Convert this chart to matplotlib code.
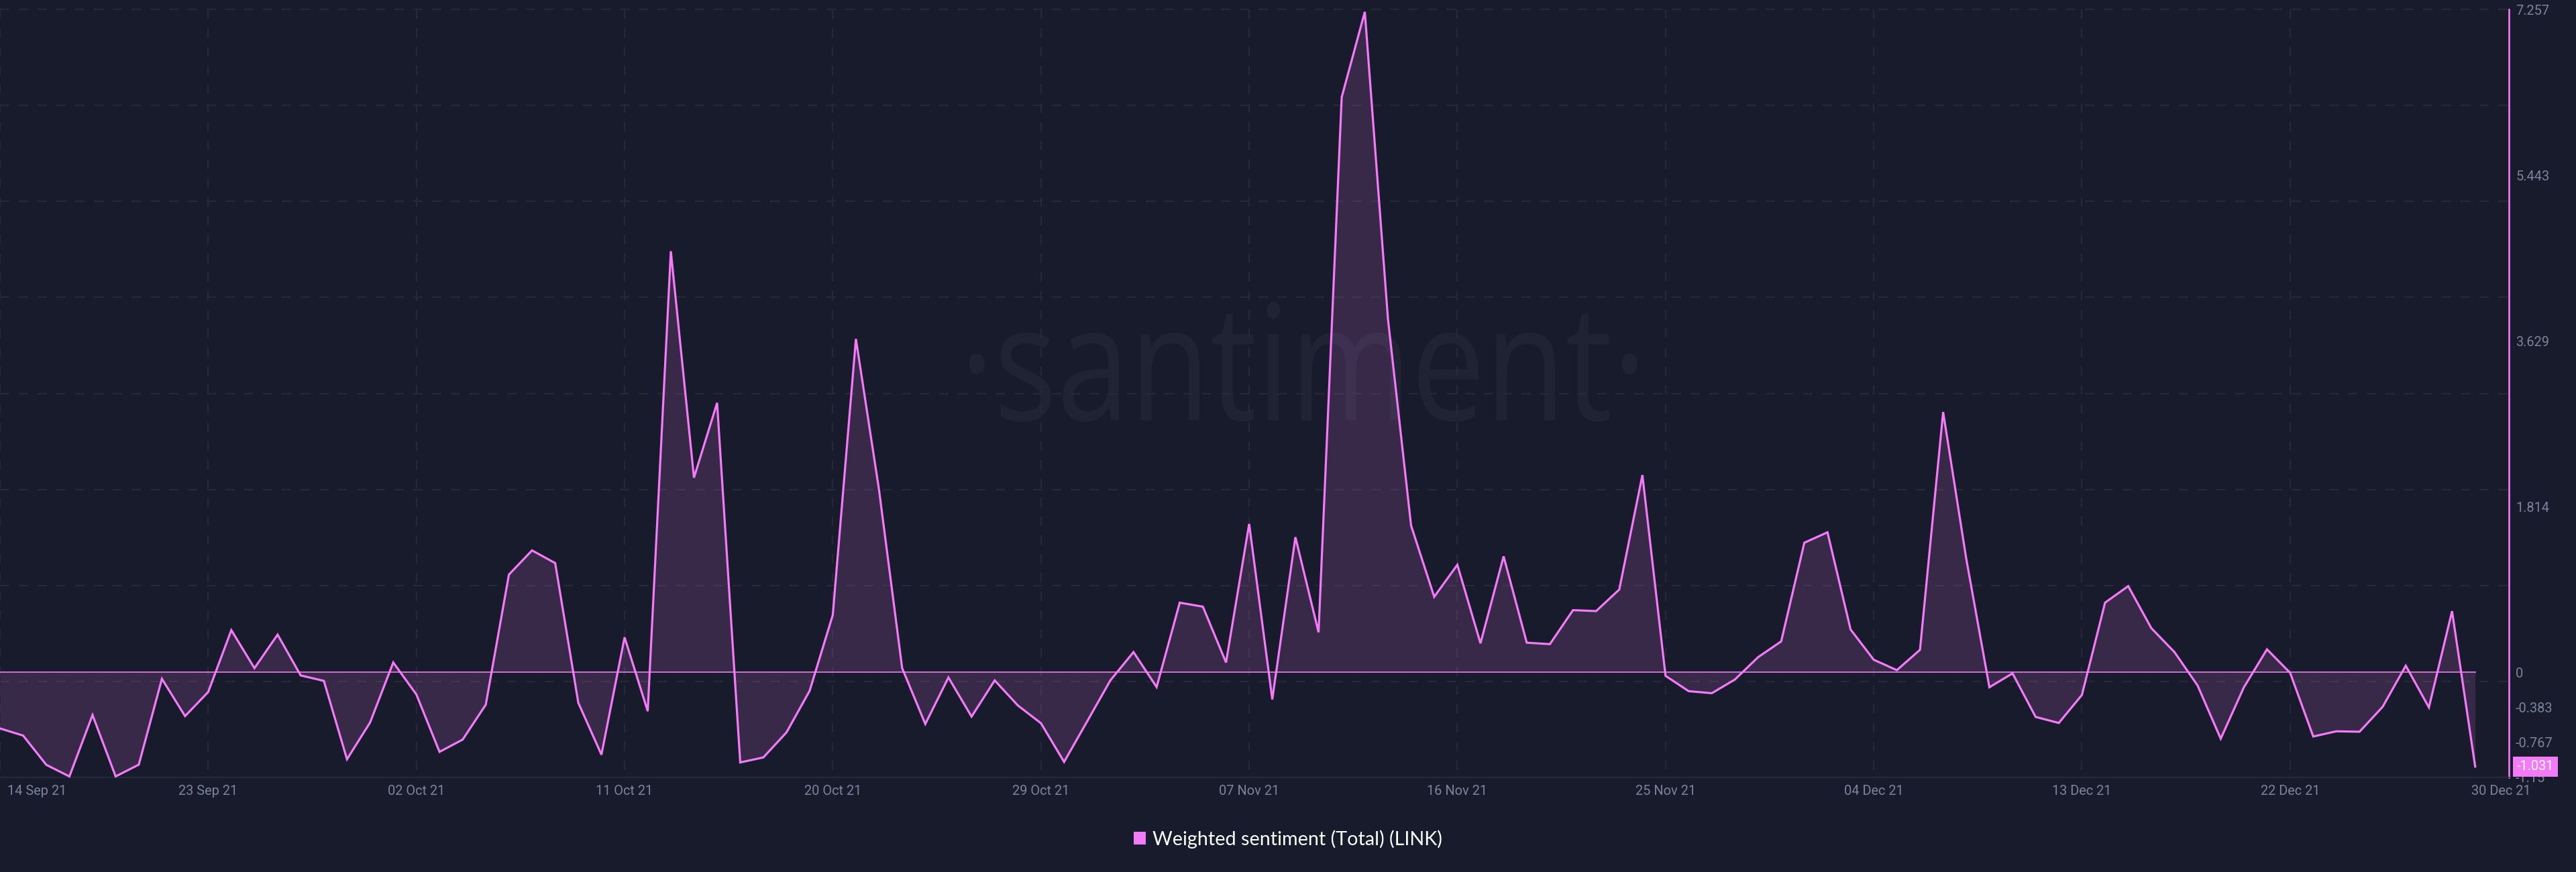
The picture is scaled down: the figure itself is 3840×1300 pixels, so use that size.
"""
Weighted sentiment (Total) for LINK, Santiment style dark chart.
"""

import numpy as np
import pandas as pd
import matplotlib
matplotlib.use("Agg")
import matplotlib.pyplot as plt
import matplotlib.patheffects as pe
from matplotlib.patches import Patch
from matplotlib.transforms import Affine2D

# ---------------------------------------------------------------------------
# Data (one value per day, 14 Sep 21 - 30 Dec 21)
# ---------------------------------------------------------------------------
SENTIMENT = [
    -0.614, -0.692, -1.012, -1.139, -0.467, -1.139, -1.010, -0.071, -0.479, -0.215,
    0.462, 0.046, 0.413, -0.034, -0.093, -0.951, -0.548, 0.108, -0.242, -0.870,
    -0.736, -0.354, 1.070, 1.335, 1.196, -0.333, -0.901, 0.383, -0.425, 4.610,
    2.131, 2.950, -0.986, -0.931, -0.657, -0.202, 0.628, 3.650, 1.997, 0.046,
    -0.565, -0.056, -0.484, -0.088, -0.362, -0.557, -0.980, -0.535, -0.088, 0.222,
    -0.161, 0.763, 0.719, 0.108, 1.625, -0.296, 1.480, 0.438, 6.295, 7.230,
    3.870, 1.607, 0.827, 1.177, 0.318, 1.270, 0.325, 0.309, 0.681, 0.671,
    0.907, 2.160, -0.038, -0.206, -0.228, -0.078, 0.166, 0.339, 1.419, 1.533,
    0.469, 0.138, 0.024, 0.247, 2.850, 1.243, -0.163, -0.011, -0.488, -0.554,
    -0.247, 0.763, 0.944, 0.484, 0.222, -0.144, -0.726, -0.164, 0.252, -0.005,
    -0.702, -0.645, -0.650, -0.377, 0.073, -0.384, 0.670, -1.031,
]
START_DATE = "2021-09-14"
X_TICK_DATES = ["2021-09-14", "2021-09-23", "2021-10-02", "2021-10-11", "2021-10-20",
                "2021-10-29", "2021-11-07", "2021-11-16", "2021-11-25", "2021-12-04",
                "2021-12-13", "2021-12-22", "2021-12-30"]
Y_TICKS = [7.257, 5.443, 3.629, 1.814, 0, -0.383, -0.767, -1.15]
Y_LABELS = ["7.257", "5.443", "3.629", "1.814", "0", "-0.383", "-0.767", "-1.15"]
LEGEND_LABEL = "Weighted sentiment (Total) (LINK)"

# ---------------------------------------------------------------------------
# Style
# ---------------------------------------------------------------------------
BG = "#181b2b"
PINK = "#f47bf7"
GRID = "#262939"
TICK_TEXT = "#7a849b"
WATERMARK = "#1f2334"
DPI = 100
PX = 72 / DPI  # one pixel in points


class SqueezeX(pe.AbstractPathEffect):
    """Squeeze text horizontally around its own centre."""

    def __init__(self, factor):
        super().__init__()
        self.factor = factor

    def draw_path(self, renderer, gc, tpath, affine, rgbFace=None):
        bbox = tpath.get_extents(affine)
        cx = 0.5 * (bbox.x0 + bbox.x1)
        squeeze = Affine2D().translate(-cx, 0).scale(self.factor, 1).translate(cx, 0)
        renderer.draw_path(gc, tpath, affine + squeeze, rgbFace)


plt.rcParams["font.family"] = ["Roboto", "DejaVu Sans"]
plt.rcParams["lines.scale_dashes"] = False

dates = pd.date_range(START_DATE, periods=len(SENTIMENT), freq="D")
values = np.array(SENTIMENT)
tick_dates = pd.to_datetime(X_TICK_DATES)

W, H = 3840, 1300
fig = plt.figure(figsize=(W / DPI, H / DPI), dpi=DPI, facecolor=BG)
ax = fig.add_axes([0, (H - 1159) / H, 3740 / W, (1159 - 14) / H], facecolor=BG)

# ---------------------------------------------------------------------------
# Grid and watermark, under the series
# ---------------------------------------------------------------------------
dash = (0, (14 * PX, 14 * PX))
ax.set_ylim(Y_TICKS[-1], Y_TICKS[0])
ax.set_xlim(dates[0], dates[-1] + pd.Timedelta(hours=35))
for level in np.linspace(Y_TICKS[-1], Y_TICKS[0], 9)[1:]:
    ax.axhline(level, color=GRID, lw=2 * PX, ls=dash, zorder=1, clip_on=False)
for day in tick_dates[:-1]:
    ax.plot([day, day], [Y_TICKS[0], Y_TICKS[-1]], color=GRID,
            lw=2 * PX, ls=dash, zorder=1)

ax.text(0.5195, 0.465, "·santiment·", transform=ax.transAxes, ha="center",
        va="baseline", fontsize=240 * PX, family="Open Sans", color=WATERMARK,
        zorder=0.5, path_effects=[SqueezeX(0.815)])

# ---------------------------------------------------------------------------
# Series: filled area down to zero, zero baseline, then the line
# ---------------------------------------------------------------------------
ax.fill_between(dates, values, 0, color=PINK, alpha=0.15, linewidth=0, zorder=2)
ax.plot(dates, np.zeros(len(dates)), color="#c86fd0", lw=2 * PX, zorder=3)
ax.plot(dates, values, color=PINK, lw=3.2 * PX, solid_joinstyle="miter", zorder=4,
        clip_on=False)

# ---------------------------------------------------------------------------
# Axes
# ---------------------------------------------------------------------------
for side in ["top", "left"]:
    ax.spines[side].set_visible(False)
ax.spines["bottom"].set_color(GRID)
ax.spines["bottom"].set_linewidth(2 * PX)
ax.spines["right"].set_color(PINK)
ax.spines["right"].set_linewidth(2.6 * PX)

ax.yaxis.tick_right()
ax.set_yticks(Y_TICKS)
ax.set_yticklabels(Y_LABELS)
ax.tick_params(axis="y", length=0, pad=10 * PX, labelsize=20 * PX, labelcolor=TICK_TEXT)
for label in ax.get_yticklabels():
    label.set_ha("left")

ax.set_xticks(tick_dates)
ax.set_xticklabels([d.strftime("%d %b %y") for d in tick_dates])
ax.tick_params(axis="x", length=0, pad=11 * PX, labelsize=20 * PX, labelcolor=TICK_TEXT)

# first and last date labels sit off their ticks, as in the app
x_labels = ax.get_xticklabels()
x_labels[0].set_transform(x_labels[0].get_transform() + Affine2D().translate(55, 0))
x_labels[-1].set_transform(x_labels[-1].get_transform() + Affine2D().translate(39, 0))

# tag with the latest value on the right of the axis
ax.text(1.0032, values[-1], f"{values[-1]:.3f}", transform=ax.get_yaxis_transform(),
        ha="left", va="center", fontsize=20 * PX, color="white", zorder=6, clip_on=False,
        bbox=dict(boxstyle="square,pad=0.28", facecolor=PINK, edgecolor="none"))

# ---------------------------------------------------------------------------
# Legend
# ---------------------------------------------------------------------------
fig.legend(handles=[Patch(facecolor=PINK, edgecolor="none", label=LEGEND_LABEL)],
           loc="center", bbox_to_anchor=(1920 / W, (H - 1251) / H), frameon=False,
           prop={"family": "Lato", "size": 28.8 * PX}, labelcolor="white",
           handlelength=0.63, handleheight=0.63, handletextpad=0.35)

fig.savefig("out.png", dpi=DPI, facecolor=BG)
